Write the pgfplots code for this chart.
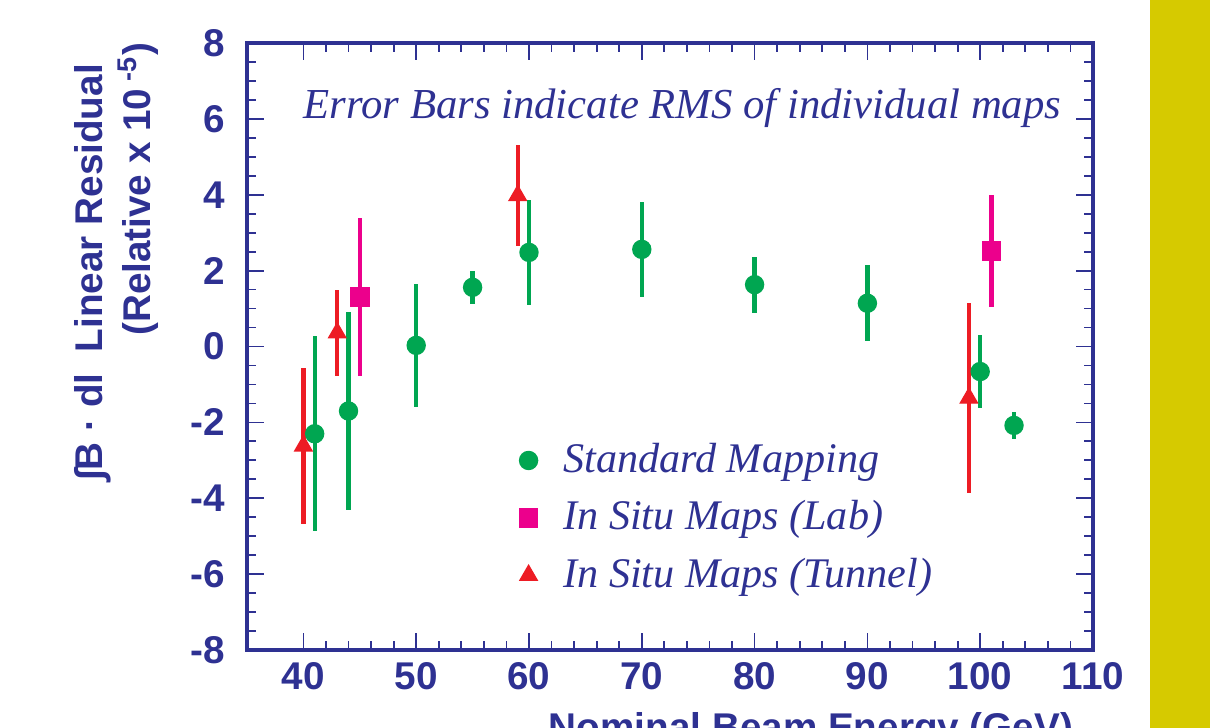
\documentclass[border=0pt]{standalone}
\usepackage{pgfplots}
\pgfplotsset{compat=1.18}
\usepackage{fontspec}
\setmainfont{Liberation Serif}
\newfontfamily\hsans{Liberation Sans}
\definecolor{axblue}{RGB}{46,49,146}
\definecolor{mgreen}{RGB}{0,166,81}
\definecolor{mpink}{RGB}{236,0,140}
\definecolor{mred}{RGB}{237,28,36}
\definecolor{myellow}{RGB}{214,202,0}
\begin{document}
\begin{tikzpicture}[x=1cm,y=1cm]
\useasboundingbox (0,0) rectangle (12.10,7.27);
\fill[myellow] (11.50,-0.2) rectangle (12.3,7.5);
\begin{axis}[
  at={(2.47cm,0.77cm)}, anchor=south west,
  scale only axis, width=8.46cm, height=6.07cm,
  xmin=35, xmax=110, ymin=-8, ymax=8,
  xtick={40,50,...,110}, ytick={-8,-6,...,8},
  minor x tick num=4, minor y tick num=3,
  tick align=inside,
  major tick length=0.17cm, minor tick length=0.09cm,
  axis line style={draw=axblue, line width=0.9pt},
  every tick/.style={draw=axblue, line width=0.5pt},
  tick label style={font=\hsans\bfseries\fontsize{11}{13}\selectfont, text=axblue},
  /pgf/number format/assume math mode=true,
  yticklabel shift=0.1cm,
  legend style={at={(0.301,0.365)}, anchor=north west, draw=none, fill=none,
    font=\itshape\fontsize{12}{14}\selectfont, text=axblue, row sep=2.5pt},
  legend cell align=left,
  legend image code/.code={\path (0cm,0cm) (0.42cm,0cm); \draw[#1] plot coordinates {(0.15cm,0cm)};},
]
\addplot+[only marks, mark=*, mark size=2.56pt, mark options={draw=mgreen, fill=mgreen},
  error bars/.cd, y dir=both, y explicit, error mark=none,
  error bar style={draw=mgreen, line width=1.2pt}]
  coordinates {
  (41,-2.30) +- (0,2.57)
  (44,-1.70) +- (0,2.62)
  (50,0.03) +- (0,1.62)
  (55,1.56) +- (0,0.44)
  (60,2.48) +- (0,1.39)
  (70,2.56) +- (0,1.26)
  (80,1.63) +- (0,0.74)
  (90,1.14) +- (0,1.00)
  (100,-0.66) +- (0,0.97)
  (103,-2.08) +- (0,0.36)
  };
\addlegendentry{Standard Mapping}
\addplot+[only marks, mark=square*, mark size=2.56pt, mark options={draw=mpink, fill=mpink},
  error bars/.cd, y dir=both, y explicit, error mark=none,
  error bar style={draw=mpink, line width=1.2pt}]
  coordinates {
  (45,1.30) +- (0,2.08)
  (101,2.52) +- (0,1.47)
  };
\addlegendentry{In Situ Maps (Lab)}
\addplot+[only marks, mark=triangle*, mark size=2.8pt, mark options={draw=mred, fill=mred},
  error bars/.cd, y dir=both, y explicit, error mark=none,
  error bar style={draw=mred, line width=1.2pt}]
  coordinates {
  (40,-2.62) +- (0,2.05)
  (43,0.36) +- (0,1.13)
  (59,3.98) +- (0,1.34)
  (99,-1.36) +- (0,2.51)
  };
\addlegendentry{In Situ Maps (Tunnel)}
\end{axis}
\node[anchor=base west, inner sep=0pt, text=axblue, font=\itshape\fontsize{12.15}{14}\selectfont] at (3.03,6.08) {Error Bars indicate RMS of individual maps};
\node[anchor=base, inner sep=0pt, rotate=90, text=axblue, font=\hsans\bfseries\fontsize{11}{13}\selectfont] at (1.02,4.545) {∫B · dl\ \ Linear Residual};
\node[anchor=base, inner sep=0pt, rotate=90, text=axblue, font=\hsans\bfseries\fontsize{11}{13}\selectfont] at (1.50,5.38) {(Relative x 10\textsuperscript{ -5})};
\node[anchor=base, inner sep=0pt, text=axblue, font=\hsans\bfseries\fontsize{11}{13}\selectfont] at (8.11,-0.13) {Nominal Beam Energy (GeV)};
\end{tikzpicture}
\end{document}
